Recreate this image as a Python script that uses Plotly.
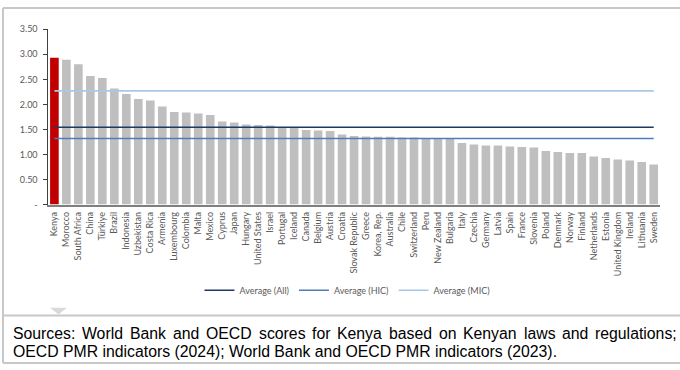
import plotly.graph_objects as go

countries = ["Kenya", "Morocco", "South Africa", "China", "Türkiye", "Brazil", "Indonesia",
             "Uzbekistan", "Costa Rica", "Armenia", "Luxembourg", "Colombia", "Malta", "Mexico",
             "Cyprus", "Japan", "Hungary", "United States", "Israel", "Portugal", "Iceland",
             "Canada", "Belgium", "Austria", "Croatia", "Slovak Republic", "Greece", "Korea, Rep.",
             "Australia", "Chile", "Switzerland", "Peru", "New Zealand", "Bulgaria", "Italy",
             "Czechia", "Germany", "Latvia", "Spain", "France", "Slovenia", "Poland", "Denmark",
             "Norway", "Finland", "Netherlands", "Estonia", "United Kingdom", "Ireland",
             "Lithuania", "Sweden"]
scores = [2.93, 2.89, 2.80, 2.57, 2.53, 2.32, 2.21, 2.11, 2.08, 1.96, 1.85, 1.84, 1.82, 1.79,
          1.66, 1.64, 1.60, 1.59, 1.58, 1.54, 1.54, 1.49, 1.48, 1.47, 1.40, 1.37, 1.36, 1.355,
          1.355, 1.34, 1.34, 1.32, 1.32, 1.32, 1.23, 1.20, 1.18, 1.18, 1.16, 1.15, 1.14, 1.07,
          1.05, 1.03, 1.03, 0.96, 0.93, 0.90, 0.88, 0.85, 0.80]
avg_all = 1.545
avg_hic = 1.32
avg_mic = 2.27
avg_names = ["Average (All)", "Average (HIC)", "Average (MIC)"]
ytick_vals = [0, 0.5, 1.0, 1.5, 2.0, 2.5, 3.0, 3.5]
ytick_text = ["-", "0.50", "1.00", "1.50", "2.00", "2.50", "3.00", "3.50"]
source_line1 = "Sources: World Bank and OECD scores for Kenya based on Kenyan laws and regulations;"
source_line2 = "OECD PMR indicators (2024); World Bank and OECD PMR indicators (2023)."

W, H = 680, 370
def px(x):
    return x / W
def py(y):
    return 1 - y / H

bar_colors = ["#C00000" if c == "Kenya" else "#BFBFBF" for c in countries]

fig = go.Figure()
fig.add_trace(go.Bar(x=countries, y=scores, marker=dict(color=bar_colors, line=dict(width=0)),
                     showlegend=False, hoverinfo="x+y"))
line_colors = ["#203864", "#4F7DBA", "#A9C8E8"]
for name, val, col in zip(avg_names, [avg_all, avg_hic, avg_mic], line_colors):
    fig.add_trace(go.Scatter(x=countries, y=[val] * len(countries), mode="lines",
                             line=dict(color=col, width=1.6), name=name))

# Arial / Liberation Sans advance widths (per 1000 em) for justification
AW = {' ': 278, 'S': 667, 'o': 556, 'u': 556, 'r': 333, 'c': 500, 'e': 556, 's': 500, ':': 278,
      'W': 944, 'l': 222, 'd': 556, 'B': 667, 'a': 556, 'n': 556, 'k': 500, 'O': 778, 'E': 667,
      'C': 722, 'D': 722, 'f': 278, 'K': 667, 'y': 500, 'b': 556, 'w': 722, 'g': 556, 't': 278,
      'i': 222, ';': 278}
fs = 15.8
words = source_line1.split(" ")
wwidths = [sum(AW.get(ch, 556) for ch in w) * fs / 1000 for w in words]
x0, x1 = 10.7, 675.0
gap = ((x1 - x0) - sum(wwidths)) / (len(words) - 1)
annotations = []
xpos = x0
for w, ww in zip(words, wwidths):
    annotations.append(dict(x=px(xpos), y=py(338), xref="paper", yref="paper", text=w,
                            showarrow=False, xanchor="left", yanchor="middle",
                            font=dict(family="Liberation Sans, Arial", size=fs, color="#000000")))
    xpos += ww + gap
annotations.append(dict(x=px(x0), y=py(356.5), xref="paper", yref="paper", text=source_line2,
                        showarrow=False, xanchor="left", yanchor="middle",
                        font=dict(family="Liberation Sans, Arial", size=fs, color="#000000")))

border = "#C8C8C8"
shapes = [
    dict(type="line", xref="paper", yref="paper", x0=px(3), x1=px(W), y0=py(2), y1=py(2),
         line=dict(color=border, width=2)),
    dict(type="line", xref="paper", yref="paper", x0=px(3), x1=px(3), y0=py(2), y1=py(368),
         line=dict(color=border, width=2)),
    dict(type="line", xref="paper", yref="paper", x0=px(3), x1=px(W), y0=py(319), y1=py(319),
         line=dict(color=border, width=2)),
    dict(type="line", xref="paper", yref="paper", x0=px(3), x1=px(W), y0=py(368), y1=py(368),
         line=dict(color=border, width=2)),
    dict(type="path", xref="paper", yref="paper",
         path=f"M {px(50)},{py(311)} L {px(67)},{py(311)} L {px(58.5)},{py(318)} Z",
         fillcolor="#D9D9D9", line=dict(width=0)),
]

fig.update_layout(
    width=W, height=H,
    margin=dict(l=0, r=0, t=0, b=0),
    paper_bgcolor="white", plot_bgcolor="white",
    bargap=0.28,
    showlegend=True,
    legend=dict(orientation="h", x=0.511, xanchor="center", y=py(293), yanchor="middle",
                font=dict(family="Lato", size=9, color="#595959"), bgcolor="rgba(0,0,0,0)",
                itemwidth=30),
    xaxis=dict(domain=[px(48.4), px(659.7)], range=[-0.5, len(countries) - 0.5],
               tickangle=-90, showgrid=False, showline=True, linecolor="#7F7F7F", linewidth=1.5,
               ticks="", ticklabelstandoff=2,
               tickfont=dict(family="Lato", size=9, color="#595959"), fixedrange=True),
    yaxis=dict(domain=[py(204.7), py(24)], range=[0, 3.5], tickvals=ytick_vals,
               ticktext=ytick_text, showgrid=False, showline=True, linecolor="#404040",
               linewidth=1, ticks="outside", ticklen=4, tickcolor="#404040", zeroline=False,
               ticklabelstandoff=4,
               tickfont=dict(family="Lato", size=9, color="#595959"), fixedrange=True),
    annotations=annotations,
    shapes=shapes,
)

fig.write_html("out.html", config=dict(displayModeBar=False),
               post_script="document.body.style.margin='0';document.body.style.padding='0';"
                           "document.body.style.overflow='hidden';")
